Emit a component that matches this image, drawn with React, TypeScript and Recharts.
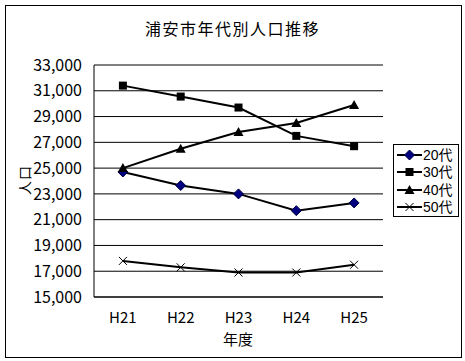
import { CartesianGrid, Line, LineChart, ReferenceLine, XAxis, YAxis } from "recharts"

const years = ["H21", "H22", "H23", "H24", "H25"]
const age20 = [24700, 23650, 23000, 21700, 22300]
const age30 = [31400, 30550, 29700, 27500, 26700]
const age40 = [25000, 26500, 27800, 28500, 29900]
const age50 = [17800, 17300, 16900, 16900, 17500]
const seriesNames = ["20代", "30代", "40代", "50代"]
const yTicks = [15000, 17000, 19000, 21000, 23000, 25000, 27000, 29000, 31000, 33000]

const data = years.map((year, i) => ({
  year,
  a20: age20[i],
  a30: age30[i],
  a40: age40[i],
  a50: age50[i],
}))

const font = '"Noto Sans CJK JP", "Noto Sans", sans-serif'
const legendFont = '"Liberation Sans", "Noto Sans CJK JP", sans-serif'

type DotProps = { cx?: number; cy?: number; index?: number }

function Diamond({ cx = 0, cy = 0 }: DotProps) {
  return <polygon points={`${cx},${cy - 5} ${cx + 5},${cy} ${cx},${cy + 5} ${cx - 5},${cy}`} fill="#000080" stroke="#000040" />
}
function Square({ cx = 0, cy = 0 }: DotProps) {
  return <rect x={cx - 4} y={cy - 4} width={8} height={8} fill="#000" />
}
function Triangle({ cx = 0, cy = 0 }: DotProps) {
  return <polygon points={`${cx},${cy - 5} ${cx + 5},${cy + 4} ${cx - 5},${cy + 4}`} fill="#000" />
}
function Cross({ cx = 0, cy = 0 }: DotProps) {
  return (
    <g stroke="#000" strokeWidth={1}>
      <line x1={cx - 4} y1={cy - 4} x2={cx + 4} y2={cy + 4} />
      <line x1={cx - 4} y1={cy + 4} x2={cx + 4} y2={cy - 4} />
    </g>
  )
}

const markers = [Diamond, Square, Triangle, Cross]
const keys = ["a20", "a30", "a40", "a50"]

function Legend() {
  return (
    <div
      style={{
        position: "absolute",
        left: 393,
        top: 144,
        width: 66,
        height: 73,
        border: "1px solid #000",
        background: "#fff",
        boxSizing: "border-box",
        paddingTop: 1,
      }}
    >
      {seriesNames.map((name, i) => {
        const M = markers[i]
        return (
          <div key={name} style={{ display: "flex", alignItems: "center", height: 17.5 }}>
            <svg width={25} height={14} style={{ marginLeft: 3, flex: "none" }}>
              <line x1={0} y1={7} x2={25} y2={7} stroke="#000" strokeWidth={2} />
              <M cx={12.5} cy={7} />
            </svg>
            <span style={{ fontFamily: legendFont, fontSize: 14, lineHeight: "16px", color: "#000", marginLeft: 1 }}>{name}</span>
          </div>
        )
      })}
    </div>
  )
}

export default function App() {
  return (
    <div style={{ position: "absolute", left: 0, top: 0, width: 465, height: 361, background: "#fff" }}>
      <div
        style={{
          position: "absolute",
          left: 5,
          top: 5,
          width: 457,
          height: 353,
          border: "1px solid #000",
          boxSizing: "border-box",
        }}
      />
      <LineChart
        width={465}
        height={361}
        data={data}
        margin={{ top: 65, right: 82, bottom: 24, left: 34 }}
        style={{ position: "absolute", left: 0, top: 0 }}
      >
        <CartesianGrid horizontal vertical={false} stroke="#000" strokeOpacity={1} />
        <XAxis
          dataKey="year"
          height={40}
          padding={{ left: 28.9, right: 28.9 }}
          stroke="#000"
          tickLine={false}
          tickMargin={9}
          tick={{ fill: "#000", fontSize: 15, fontFamily: font }}
        />
        <XAxis
          xAxisId="bounds"
          type="number"
          domain={[0, 5]}
          ticks={[1, 2, 3, 4]}
          tick={false}
          axisLine={false}
          mirror
          height={0}
          tickSize={4}
          stroke="#000"
        />
        <YAxis
          width={60}
          domain={[15000, 33000]}
          ticks={yTicks}
          interval={0}
          stroke="#000"
          tickLine={false}
          tickMargin={6}
          tickFormatter={(v) => v.toLocaleString("en-US")}
          tick={{ fill: "#000", fontSize: 16, fontFamily: font }}
        />
        <ReferenceLine y={33000} stroke="#808080" />
        <ReferenceLine x={5} xAxisId="bounds" stroke="#808080" />
        {keys.map((k, i) => {
          const M = markers[i]
          return (
            <Line
              key={k}
              dataKey={k}
              name={seriesNames[i]}
              stroke="#000"
              strokeWidth={2}
              isAnimationActive={false}
              dot={(p: DotProps) => <M key={`${k}-${p.index}`} cx={p.cx} cy={p.cy} />}
            />
          )
        })}
      </LineChart>
      <div
        style={{
          position: "absolute",
          left: 0,
          width: 465,
          top: 16,
          textAlign: "center",
          fontFamily: font,
          fontSize: 16,
          letterSpacing: 1.5,
          color: "#000",
        }}
      >
        浦安市年代別人口推移
      </div>
      <div
        style={{
          position: "absolute",
          left: 24,
          top: 180,
          transform: "translate(-50%, -50%) rotate(-90deg)",
          fontFamily: font,
          fontSize: 14,
          letterSpacing: 1,
          whiteSpace: "nowrap",
          color: "#000",
        }}
      >
        人口
      </div>
      <div
        style={{
          position: "absolute",
          left: 238,
          top: 338,
          transform: "translate(-50%, -50%)",
          fontFamily: font,
          fontSize: 15,
          whiteSpace: "nowrap",
          color: "#000",
        }}
      >
        年度
      </div>
      <Legend />
    </div>
  )
}
